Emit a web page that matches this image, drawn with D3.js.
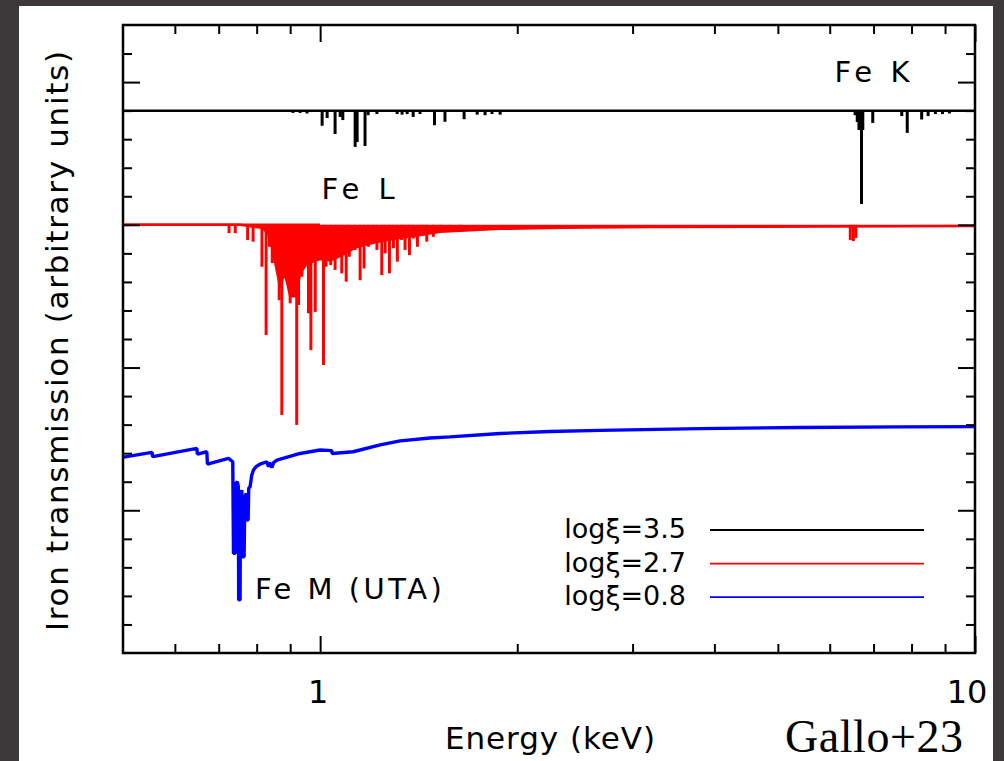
<!DOCTYPE html>
<html>
<head>
<meta charset="utf-8">
<script src="https://cdn.jsdelivr.net/npm/d3@7"></script>
<style>
body { margin: 0; background: #3b3939; }
text { font-family: "DejaVu Sans", sans-serif; fill: #000; }
</style>
</head>
<body>
<svg width="1004" height="761"></svg>
<script>
// ---- data (y is in offset arbitrary units) ----
var seriesNames = ['logξ=3.5', 'logξ=2.7', 'logξ=0.8'];
var seriesColors = ['#000000', '#ff0000', '#0000ff'];

// logξ=3.5 : flat continuum with Fe L and Fe K lines [energy keV, line bottom]
var blackContinuum = [[0.5, 1.9], [10, 1.9]];
var blackLines = [
  [0.909, 1.892], [0.932, 1.892], [0.955, 1.890], [1.007, 1.847], [1.025, 1.874],
  [1.054, 1.818], [1.073, 1.878], [1.083, 1.867], [1.131, 1.773], [1.139, 1.790],
  [1.171, 1.776], [1.184, 1.884], [1.221, 1.888], [1.311, 1.888], [1.334, 1.886],
  [1.358, 1.888], [1.387, 1.878], [1.421, 1.888], [1.495, 1.849], [1.551, 1.861],
  [1.659, 1.870], [1.737, 1.886], [1.786, 1.884], [1.830, 1.888], [1.883, 1.886],
  [6.56, 1.884], [6.61, 1.860], [6.65, 1.832], [6.71, 1.573], [6.74, 1.832],
  [6.98, 1.857], [7.73, 1.881], [7.88, 1.822], [8.29, 1.869], [8.48, 1.881],
  [8.70, 1.888], [8.92, 1.888], [9.14, 1.890]
];

// logξ=2.7 : continuum (blended trough) plus Fe L and Fe K lines
var redBase = 1.5;
var redContinuum = [
  [0.5, 1.5], [0.755, 1.5], [0.815, 1.49], [0.833, 1.47], [0.845, 1.42],
  [0.857, 1.35], [0.869, 1.28], [0.881, 1.33], [0.890, 1.30], [0.900, 1.25],
  [0.919, 1.25], [0.932, 1.33], [0.952, 1.36], [0.972, 1.37], [1.0, 1.38],
  [1.036, 1.375], [1.06, 1.385], [1.092, 1.40], [1.13, 1.42], [1.171, 1.43],
  [1.22, 1.44], [1.325, 1.455], [1.40, 1.462], [1.525, 1.476], [1.883, 1.486],
  [2.325, 1.490], [3.19, 1.492], [10, 1.496]
];
var redLines = [
  [0.726, 1.471], [0.742, 1.471], [0.775, 1.447], [0.790, 1.441], [0.815, 1.353],
  [0.827, 1.114], [0.837, 1.423], [0.845, 1.366], [0.854, 1.366], [0.866, 1.236],
  [0.874, 0.834], [0.887, 1.412], [0.900, 1.225], [0.913, 1.306], [0.921, 0.799],
  [0.927, 1.219], [0.938, 1.318], [0.952, 1.366], [0.960, 1.190], [0.968, 1.061],
  [0.983, 1.195], [0.994, 1.401], [1.012, 1.009], [1.021, 1.353], [1.038, 1.359],
  [1.054, 1.342], [1.066, 1.423], [1.079, 1.330], [1.096, 1.301], [1.108, 1.388],
  [1.131, 1.412], [1.151, 1.306], [1.167, 1.347], [1.185, 1.423], [1.204, 1.447],
  [1.221, 1.412], [1.242, 1.324], [1.257, 1.400], [1.276, 1.330], [1.294, 1.418],
  [1.312, 1.371], [1.332, 1.447], [1.348, 1.412], [1.369, 1.394], [1.388, 1.452],
  [1.408, 1.423], [1.430, 1.470], [1.455, 1.441], [1.489, 1.458], [1.525, 1.472],
  [1.579, 1.476], [1.636, 1.476],
  [6.45, 1.447], [6.52, 1.443], [6.58, 1.454]
];

// logξ=0.8 : full spectrum including the Fe M UTA trough
var blueSpectrum = [
  [0.501, 0.686], [0.5535, 0.703], [0.5551, 0.688], [0.6482, 0.717], [0.6495, 0.697],
  [0.6714, 0.705], [0.6728, 0.662], [0.7244, 0.682], [0.7355, 0.670], [0.7374, 0.349],
  [0.7416, 0.349], [0.7433, 0.594], [0.7475, 0.600], [0.7500, 0.583], [0.7510, 0.186],
  [0.7547, 0.186], [0.7555, 0.547], [0.7593, 0.571], [0.7608, 0.337], [0.7655, 0.337],
  [0.7673, 0.547], [0.7709, 0.559], [0.7727, 0.466], [0.7763, 0.466], [0.7780, 0.577],
  [0.7818, 0.583], [0.7863, 0.623], [0.7909, 0.641], [0.7985, 0.653], [0.8099, 0.662],
  [0.8290, 0.670], [0.834, 0.653], [0.837, 0.667], [0.844, 0.650], [0.849, 0.667],
  [0.859, 0.676], [0.932, 0.699], [1.0, 0.711], [1.042, 0.709], [1.043, 0.699],
  [1.123, 0.705], [1.235, 0.729], [1.325, 0.743], [1.472, 0.753], [1.579, 0.757],
  [1.883, 0.769], [2.245, 0.776], [2.676, 0.780], [3.80, 0.786], [5.40, 0.790],
  [7.68, 0.792], [10.0, 0.793]
];

var xMajorTicks = [1, 10];
var xMinorTicks = [0.6, 0.7, 0.8, 0.9, 2, 3, 4, 5, 6, 7, 8, 9];
var xTickLabels = ['1', '10'];
var yMajorTicks = [0.5, 1.0, 1.5, 2.0];

var annotations = [
  {text: 'Fe K', e: 6.1, v: 2.0},
  {text: 'Fe L', e: 1.005, v: 1.59},
  {text: 'Fe M (UTA)', e: 0.795, v: 0.19}
];

// ---- chart ----
var svg = d3.select('svg');

svg.append('rect')
  .attr('x', 19).attr('y', 6)
  .attr('width', 974).attr('height', 760)
  .attr('fill', '#ffffff');

var x = d3.scaleLog().domain([0.5, 10]).range([123, 975]);
var y = d3.scaleLinear().domain([0, 2.2]).range([653, 25]);

var yMinorTicks = y.ticks(22).filter(function(t) {
  return yMajorTicks.indexOf(+t.toFixed(1)) < 0 && t > 0 && t < 2.2;
});

svg.append('clipPath').attr('id', 'plot-clip')
  .append('rect')
  .attr('x', 123).attr('y', 25)
  .attr('width', 852).attr('height', 628);

var plot = svg.append('g').attr('clip-path', 'url(#plot-clip)');

var line = d3.line()
  .x(function(d) { return x(d[0]); })
  .y(function(d) { return y(d[1]); });

// black series
plot.append('path')
  .datum(blackContinuum)
  .attr('d', line)
  .attr('fill', 'none')
  .attr('stroke', seriesColors[0])
  .attr('stroke-width', 2.5);

plot.append('g').selectAll('path')
  .data(blackLines)
  .enter().append('path')
  .attr('d', function(d) { return 'M' + x(d[0]) + ',' + y(1.9) + 'V' + y(d[1]); })
  .attr('stroke', seriesColors[0])
  .attr('stroke-width', 3);

// red series
var redArea = d3.area()
  .x(function(d) { return x(d[0]); })
  .y0(y(redBase))
  .y1(function(d) { return y(d[1]); });

plot.append('path')
  .datum(redContinuum)
  .attr('d', redArea)
  .attr('fill', seriesColors[1]);

plot.append('path')
  .datum(redContinuum)
  .attr('d', line)
  .attr('fill', 'none')
  .attr('stroke', seriesColors[1])
  .attr('stroke-width', 2.5);

plot.append('path')
  .datum([[0.5, redBase], [1.0, redBase]])
  .attr('d', line)
  .attr('stroke', seriesColors[1])
  .attr('stroke-width', 2.5);

plot.append('g').selectAll('path')
  .data(redLines)
  .enter().append('path')
  .attr('d', function(d) { return 'M' + x(d[0]) + ',' + y(redBase) + 'V' + y(d[1]); })
  .attr('stroke', seriesColors[1])
  .attr('stroke-width', 3);

// blue series
plot.append('path')
  .datum(blueSpectrum)
  .attr('d', line)
  .attr('fill', 'none')
  .attr('stroke', seriesColors[2])
  .attr('stroke-width', 3.4)
  .attr('stroke-linejoin', 'bevel');

// frame and ticks
function tickAxis(axis, values, size, transform) {
  var g = svg.append('g')
    .attr('transform', transform)
    .call(axis.tickValues(values).tickSize(size).tickFormat(''));
  g.select('.domain').remove();
  g.selectAll('line').attr('stroke', '#000').attr('stroke-width', 2);
}

tickAxis(d3.axisBottom(x), xMajorTicks, -17, 'translate(0,653)');
tickAxis(d3.axisBottom(x), xMinorTicks, -9, 'translate(0,653)');
tickAxis(d3.axisTop(x), xMajorTicks, -17, 'translate(0,25)');
tickAxis(d3.axisTop(x), xMinorTicks, -9, 'translate(0,25)');
tickAxis(d3.axisLeft(y), yMajorTicks, -17, 'translate(123,0)');
tickAxis(d3.axisLeft(y), yMinorTicks, -9, 'translate(123,0)');
tickAxis(d3.axisRight(y), yMajorTicks, -17, 'translate(975,0)');
tickAxis(d3.axisRight(y), yMinorTicks, -9, 'translate(975,0)');

svg.append('rect')
  .attr('x', 123).attr('y', 25)
  .attr('width', 852).attr('height', 628)
  .attr('fill', 'none')
  .attr('stroke', '#000')
  .attr('stroke-width', 2.5);

// tick labels
svg.selectAll('.xlabel')
  .data(xMajorTicks)
  .enter().append('text')
  .attr('class', 'xlabel')
  .attr('x', function(d, i) { return x(d) - (i === 0 ? 2 : 8); })
  .attr('y', 703)
  .attr('text-anchor', 'middle')
  .attr('font-size', 32)
  .text(function(d, i) { return xTickLabels[i]; });

// axis titles
svg.append('text')
  .attr('x', 550).attr('y', 749)
  .attr('text-anchor', 'middle')
  .attr('font-size', 31)
  .attr('textLength', 210)
  .text('Energy (keV)');

svg.append('text')
  .attr('transform', 'translate(68,341) rotate(-90)')
  .attr('text-anchor', 'middle')
  .attr('font-size', 31)
  .attr('textLength', 580)
  .text('Iron transmission (arbitrary units)');

svg.append('text')
  .attr('x', 785).attr('y', 752)
  .attr('style', 'font-family:"Liberation Serif",serif')
  .attr('font-size', 46)
  .attr('textLength', 178)
  .text('Gallo+23');

// annotations
var annWidths = [75, 73, 187];
svg.selectAll('.ann')
  .data(annotations)
  .enter().append('text')
  .attr('class', 'ann')
  .attr('x', function(d) { return x(d.e); })
  .attr('y', function(d) { return y(d.v); })
  .attr('font-size', 29)
  .attr('textLength', function(d, i) { return annWidths[i]; })
  .text(function(d) { return d.text; });

// legend
var legend = svg.append('g');
seriesNames.forEach(function(name, i) {
  var ly = 530 + i * 33.6;
  legend.append('text')
    .attr('x', 686).attr('y', ly + 8)
    .attr('text-anchor', 'end')
    .attr('font-size', 27)
    .text(name);
  legend.append('line')
    .attr('x1', 710).attr('x2', 924)
    .attr('y1', ly).attr('y2', ly)
    .attr('stroke', seriesColors[i])
    .attr('stroke-width', 1.8);
});
</script>
</body>
</html>
